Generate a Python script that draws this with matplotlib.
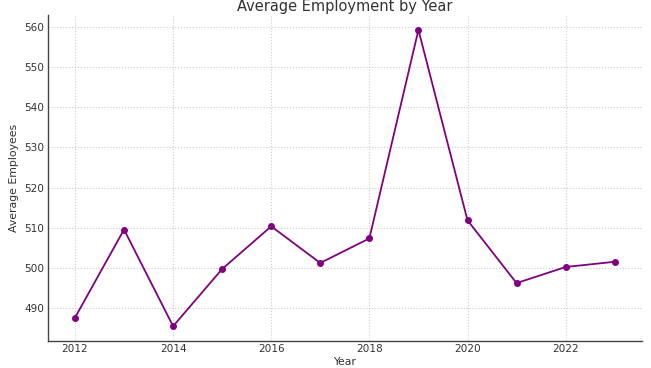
import matplotlib.pyplot as plt

years = [2012, 2013, 2014, 2015, 2016, 2017, 2018, 2019, 2020, 2021, 2022, 2023]
avg_employees = [487.7, 509.6, 485.6, 499.8, 510.4, 501.3, 507.4, 559.2, 511.9, 496.3, 500.3, 501.6]

txt = '#333333'

fig, ax = plt.subplots(figsize=(6.51, 3.68), dpi=100)
fig.subplots_adjust(left=0.0737, right=0.9857, bottom=0.0734, top=0.959)

ax.plot(years, avg_employees, color='purple', marker='o', markersize=4, linewidth=1.3)

ax.set_title('Average Employment by Year', fontsize=10.5, color=txt, pad=3)
ax.set_xlabel('Year', fontsize=7.8, color=txt, labelpad=2)
ax.set_ylabel('Average Employees', fontsize=7.8, color=txt, labelpad=4)

ax.grid(True, linestyle=':', color='#cccccc', linewidth=0.8)
ax.tick_params(length=0, labelsize=7.6, labelcolor=txt, pad=2.5)
for s in ['top', 'right']:
    ax.spines[s].set_visible(False)
for s in ['left', 'bottom']:
    ax.spines[s].set_color('#444444')
    ax.spines[s].set_linewidth(1.0)

plt.savefig('out.png', dpi=100)
